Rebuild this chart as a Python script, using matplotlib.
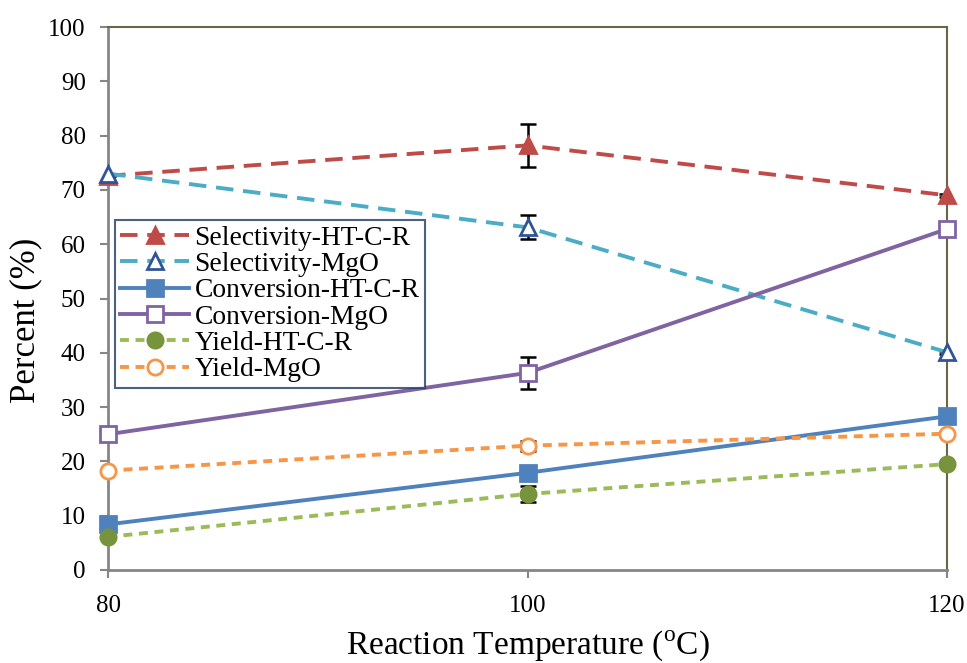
import numpy as np
import matplotlib
matplotlib.use("Agg")
import matplotlib.pyplot as plt

plt.rcParams['font.family'] = ['Liberation Serif', 'DejaVu Serif']
plt.rcParams['mathtext.fontset'] = 'custom'
plt.rcParams['mathtext.rm'] = 'Liberation Serif'

# Reaction temperatures (C)
temps = [80, 100, 120]

sel_ht = [72.6, 78.2, 69.0]
sel_ht_err = [0.0, 4.0, 0.3]
sel_mgo = [73.0, 63.1, 40.1]
sel_mgo_err = [0.0, 2.2, 0.3]
conv_ht = [8.4, 17.9, 28.3]
conv_ht_err = [0.0, 0.0, 0.0]
conv_mgo = [25.0, 36.3, 62.8]
conv_mgo_err = [0.0, 3.0, 0.3]
yld_ht = [6.1, 14.0, 19.5]
yld_ht_err = [0.0, 1.4, 0.0]
yld_mgo = [18.3, 22.9, 25.1]
yld_mgo_err = [0.0, 0.9, 0.3]

fig = plt.figure(figsize=(9.67, 6.63), dpi=100)
ax = fig.add_axes([108/967, 1-570/663, (947-108)/967, (570-27)/663])

series = [
    ("Selectivity-HT-C-R", sel_ht, sel_ht_err, '#BE4B48', (0, (4.5, 2.5)), '^', '#BE4B48', '#BE4B48'),
    ("Selectivity-MgO", sel_mgo, sel_mgo_err, '#4BACC6', (0, (4.5, 2.5)), '^', 'white', '#2F5597'),
    ("Conversion-HT-C-R", conv_ht, conv_ht_err, '#4F81BD', '-', 's', '#4F81BD', '#4F81BD'),
    ("Conversion-MgO", conv_mgo, conv_mgo_err, '#8064A2', '-', 's', 'white', '#8064A2'),
    ("Yield-HT-C-R", yld_ht, yld_ht_err, '#9BBB59', (0, (2.3, 1.7)), 'o', '#77933C', '#77933C'),
    ("Yield-MgO", yld_mgo, yld_mgo_err, '#F79646', (0, (2.3, 1.7)), 'o', 'white', '#F79646'),
]

for label, vals, err, color, ls, mk, mfc, mec in series:
    ax.errorbar(temps, vals, yerr=err, fmt='none', ecolor='black',
                elinewidth=1.8, capsize=6, capthick=1.8, zorder=2)
    ax.plot(temps, vals, color=color, linestyle=ls, linewidth=2.8,
            marker=mk, markersize=11, markerfacecolor=mfc,
            markeredgecolor=mec, markeredgewidth=2, label=label, zorder=3,
            clip_on=False)

ax.set_xlim(80, 120)
ax.set_ylim(0, 100)
ax.set_xticks([80, 100, 120])
ax.set_yticks(np.arange(0, 101, 10))
ax.tick_params(axis='both', labelsize=18, direction='out', length=6,
               width=1.5, color='#868686')
ax.tick_params(axis='x', pad=12)
ax.tick_params(axis='y', pad=10)

for side in ['left', 'bottom']:
    ax.spines[side].set_color('#868686')
    ax.spines[side].set_linewidth(2)
for side in ['right', 'top']:
    ax.spines[side].set_color('#6B6445')
    ax.spines[side].set_linewidth(1.5)

ax.set_xlabel("Reaction Temperature ($^\\mathrm{o}$C)", fontsize=24, labelpad=8)
ax.set_ylabel("Percent (%)", fontsize=25)
ax.yaxis.set_label_coords(-0.078, 0.46)

leg = ax.legend(loc='upper left', bbox_to_anchor=(0.008, 0.645), fontsize=19.8,
                frameon=True, fancybox=False, borderpad=0.2, labelspacing=0.04,
                handlelength=2.5, handletextpad=0.2, borderaxespad=0)
leg.get_frame().set_edgecolor('#1F3864')
leg.get_frame().set_linewidth(1.5)

fig.savefig('out.png', dpi=100)
